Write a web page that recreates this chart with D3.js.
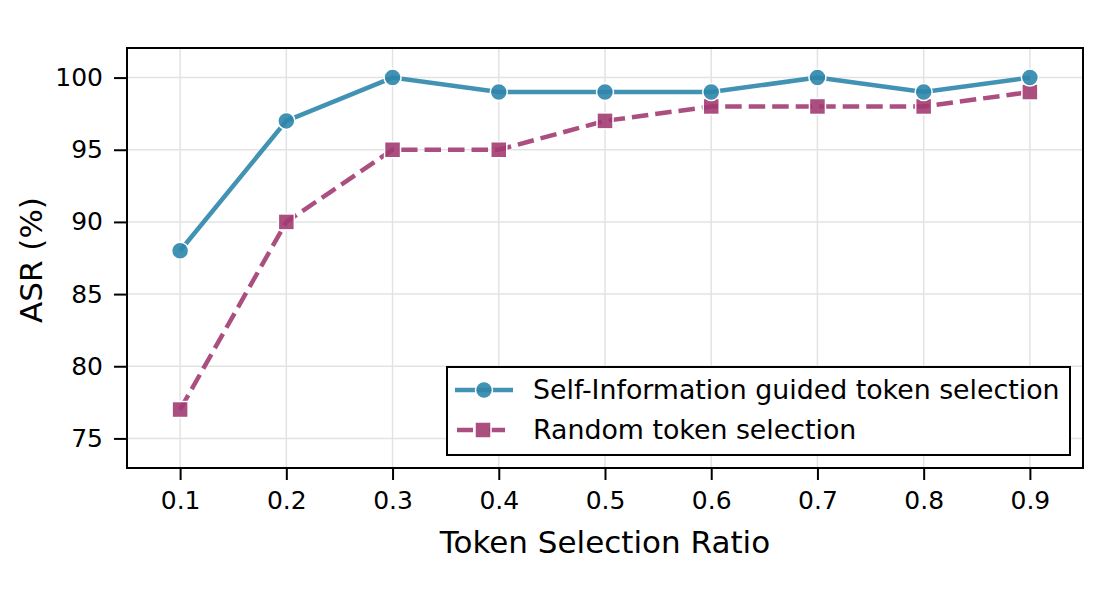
<!DOCTYPE html>
<html>
<head>
<meta charset="utf-8">
<script src="https://cdn.jsdelivr.net/npm/d3@7"></script>
<style>
  body { margin: 0; background: #fff; }
  text { font-family: "DejaVu Sans", sans-serif; fill: #000; }
</style>
</head>
<body>
<div id="wrapper"></div>
<script>
// data
const ratios = [0.1, 0.2, 0.3, 0.4, 0.5, 0.6, 0.7, 0.8, 0.9]
const selfInfoASR = [88, 97, 100, 99, 99, 99, 100, 99, 100]
const randomASR = [77, 90, 95, 95, 97, 98, 98, 98, 99]
const yTicks = [75, 80, 85, 90, 95, 100]
const seriesNames = ["Self-Information guided token selection", "Random token selection"]

function drawChart() {
    let dimensions = {
        width: 1100,
        height: 605,
        margin: { top: 48, right: 17, bottom: 137, left: 127 },
    }
    dimensions.boundedWidth = dimensions.width - dimensions.margin.left - dimensions.margin.right
    dimensions.boundedHeight = dimensions.height - dimensions.margin.top - dimensions.margin.bottom

    const svg = d3.select("#wrapper").append("svg")
        .attr("width", dimensions.width)
        .attr("height", dimensions.height)

    const bounds = svg.append("g")
        .attr("transform", `translate(${dimensions.margin.left},${dimensions.margin.top})`)

    const xScale = d3.scaleLinear().domain([0.05, 0.95]).range([0, dimensions.boundedWidth])
    const yScale = d3.scaleLinear().domain([72.95, 102.05]).range([dimensions.boundedHeight, 0])

    // grid
    bounds.append("g").selectAll("line").data(ratios).join("line")
        .attr("x1", d => xScale(d)).attr("x2", d => xScale(d))
        .attr("y1", 0).attr("y2", dimensions.boundedHeight)
        .attr("stroke", "#e3e3e3").attr("stroke-width", 1.5)
    bounds.append("g").selectAll("line").data(yTicks).join("line")
        .attr("y1", d => yScale(d)).attr("y2", d => yScale(d))
        .attr("x1", 0).attr("x2", dimensions.boundedWidth)
        .attr("stroke", "#e3e3e3").attr("stroke-width", 1.5)

    // axes
    const xAxis = bounds.append("g")
        .attr("transform", `translate(0,${dimensions.boundedHeight})`)
        .call(d3.axisBottom(xScale).tickValues(ratios).tickFormat(d3.format(".1f")).tickSizeOuter(0).tickSize(12).tickPadding(11))
    const yAxis = bounds.append("g")
        .call(d3.axisLeft(yScale).tickValues(yTicks).tickSizeOuter(0).tickSize(13).tickPadding(11))
    ;[xAxis, yAxis].forEach(a => {
        a.select(".domain").remove()
        a.selectAll(".tick line").attr("stroke", "#000").attr("stroke-width", 2)
        a.selectAll(".tick text").style("font-size", "25px").attr("fill", "#000")
            .style("font-family", "DejaVu Sans, sans-serif")
    })

    // frame
    bounds.append("rect")
        .attr("width", dimensions.boundedWidth).attr("height", dimensions.boundedHeight)
        .attr("fill", "none").attr("stroke", "#000").attr("stroke-width", 2)

    // lines
    const blue = "#2E86AB", purple = "#A23B72"
    const lineGen = d3.line().x((d, i) => xScale(ratios[i])).y(d => yScale(d))

    bounds.append("path").attr("d", lineGen(randomASR))
        .attr("fill", "none").attr("stroke", purple).attr("stroke-opacity", 0.9)
        .attr("stroke-width", 4.5).attr("stroke-dasharray", "16.5,7")
    bounds.append("g").selectAll("rect").data(randomASR).join("rect")
        .attr("x", (d, i) => xScale(ratios[i]) - 8).attr("y", d => yScale(d) - 8)
        .attr("width", 16).attr("height", 16)
        .attr("fill", purple).attr("fill-opacity", 0.9)
        .attr("stroke", "#fff").attr("stroke-width", 1.5)

    bounds.append("path").attr("d", lineGen(selfInfoASR))
        .attr("fill", "none").attr("stroke", blue).attr("stroke-opacity", 0.9)
        .attr("stroke-width", 4.5)
    bounds.append("g").selectAll("circle").data(selfInfoASR).join("circle")
        .attr("cx", (d, i) => xScale(ratios[i])).attr("cy", d => yScale(d))
        .attr("r", 8.5)
        .attr("fill", blue).attr("fill-opacity", 0.9)
        .attr("stroke", "#fff").attr("stroke-width", 1.5)

    // axis labels
    svg.append("text")
        .attr("x", dimensions.margin.left + dimensions.boundedWidth / 2)
        .attr("y", 553)
        .attr("text-anchor", "middle")
        .style("font-size", "31px")
        .text("Token Selection Ratio")
    svg.append("text")
        .attr("transform", `translate(42,${dimensions.margin.top + dimensions.boundedHeight / 2 + 2}) rotate(-90)`)
        .attr("text-anchor", "middle")
        .style("font-size", "31px")
        .text("ASR (%)")

    // legend
    const legend = svg.append("g").attr("transform", "translate(447,367)")
    legend.append("rect").attr("width", 623).attr("height", 88)
        .attr("fill", "#fff").attr("stroke", "#000").attr("stroke-width", 2)
    const rows = [
        { name: seriesNames[0], color: blue, dash: null, y: 23 },
        { name: seriesNames[1], color: purple, dash: "16.5,7", y: 63 },
    ]
    rows.forEach(r => {
        const g = legend.append("g").attr("transform", `translate(0,${r.y})`)
        if (r.dash) {
            g.append("line").attr("x1", 10).attr("x2", 26).attr("stroke", r.color).attr("stroke-opacity", 0.9).attr("stroke-width", 4.5)
            g.append("line").attr("x1", 42).attr("x2", 58).attr("stroke", r.color).attr("stroke-opacity", 0.9).attr("stroke-width", 4.5)
            g.append("rect").attr("x", 28).attr("y", -8).attr("width", 16).attr("height", 16)
                .attr("fill", r.color).attr("fill-opacity", 0.9).attr("stroke", "#fff").attr("stroke-width", 1.5)
        } else {
            g.append("line").attr("x1", 8).attr("x2", 66).attr("stroke", r.color).attr("stroke-opacity", 0.9).attr("stroke-width", 4.5)
            g.append("circle").attr("cx", 37).attr("r", 8.5)
                .attr("fill", r.color).attr("fill-opacity", 0.9).attr("stroke", "#fff").attr("stroke-width", 1.5)
        }
        g.append("text").attr("x", 86).attr("dy", "0.35em").style("font-size", "26.8px").text(r.name)
    })
}
drawChart()
</script>
</body>
</html>
